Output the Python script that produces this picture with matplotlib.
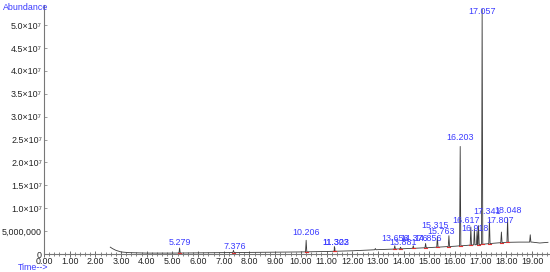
import matplotlib
matplotlib.use("Agg")
import matplotlib.pyplot as plt
import numpy as np
from matplotlib.ticker import MultipleLocator, FixedLocator, FuncFormatter

plt.rcParams['font.family'] = ['Liberation Sans', 'DejaVu Sans']

# ---- data ----
baseline_t = [2.58, 2.66, 2.80, 3.00, 3.30, 4.0, 5.0, 6.0, 7.0, 8.0, 9.0, 10.0, 11.0, 12.0,
              13.0, 14.0, 15.0, 16.0, 16.5, 17.0, 17.5, 18.0, 18.5, 19.0, 19.3, 19.62]
baseline_y = [1.5e6, 1.2e6, 0.8e6, 0.45e6, 0.3e6, 0.2e6, 0.2e6, 0.25e6, 0.3e6, 0.35e6, 0.4e6,
              0.45e6, 0.55e6, 0.7e6, 0.95e6, 1.15e6, 1.4e6, 1.7e6, 1.9e6, 2.1e6, 2.35e6, 2.55e6,
              2.6e6, 2.6e6, 2.4e6, 2.55e6]

peak_rt = [5.279, 7.376, 10.206, 11.303, 11.322, 13.656, 13.881, 14.376, 14.856,
           15.315, 15.763, 16.203, 16.617, 16.918, 17.057, 17.341, 17.807, 18.048]
peak_height = [1.3e6, 0.8e6, 3.0e6, 1.6e6, 1.3e6, 1.8e6, 1.5e6, 1.8e6, 2.3e6,
               3.8e6, 4.0e6, 2.35e7, 5.9e6, 6.2e6, 5.35e7, 7.5e6, 4.8e6, 7.9e6]
peak_label = ["5.279", "7.376", "10.206", "11.303", "11.322", "13.656", "13.881", "14.376", "14.856",
              "15.315", "15.763", "16.203", "16.617", "16.918", "17.057", "17.341", "17.807", "18.048"]

minor_rt = [12.9, 16.755, 16.86, 18.93]
minor_height = [1.2e6, 5.5e6, 5.1e6, 4.2e6]

y_ticks = [0, 5e6, 1e7, 1.5e7, 2e7, 2.5e7, 3e7, 3.5e7, 4e7, 4.5e7, 5e7]
x_ticks = list(range(0, 20))

# label placement (style): (dx in minutes, y centre in abundance)
label_pos = [(0, 2.5e6), (0.05, 1.7e6), (0, 4.6e6), (0.05, 2.6e6), (0.04, 2.6e6), (0, 3.4e6),
             (0.1, 2.5e6), (0.05, 3.3e6), (0.1, 3.3e6),
             (-0.1, 6.2e6), (-0.3, 5.0e6), (0, 2.55e7), (-0.2, 7.4e6), (-0.15, 5.6e6),
             (0, 5.3e7), (-0.1, 9.3e6), (-0.05, 7.4e6), (0.0, 9.6e6)]

# ---- build trace ----
bt = np.array(baseline_t)
by = np.array(baseline_y)
pts_t = list(bt)
pts_y = list(by)
w = 0.025
for rt, h in list(zip(peak_rt, peak_height)) + list(zip(minor_rt, minor_height)):
    b = np.interp(rt, bt, by)
    for tt, yy in ((rt - w, b), (rt, h), (rt + w, b)):
        pts_t.append(tt)
        pts_y.append(yy)
order = np.argsort(pts_t, kind='stable')
tr_t = np.array(pts_t)[order]
tr_y = np.array(pts_y)[order]

fig = plt.figure(figsize=(5.5, 2.72), dpi=100)
ax = fig.add_axes([44/550, 18/272, (549-44)/550, (254-5)/272])
ax.plot(tr_t, tr_y, color='#3a3a3a', lw=0.6)

# integration markers
for rt in peak_rt:
    b = np.interp(rt, bt, by)
    ax.plot([rt - 0.06, rt + 0.06], [b, b], color='#e03030', lw=0.8)

for rt, lab, (dx, yc) in zip(peak_rt, peak_label, label_pos):
    ax.text(rt + dx, yc, lab, color='#3a3aff', fontsize=6.4, ha='center', va='center')

ax.set_xlim(0, 19.66)
ax.set_ylim(0, 5.44e7)
for s in ('top', 'right'):
    ax.spines[s].set_visible(False)
for s in ('left', 'bottom'):
    ax.spines[s].set_color('#777777')
    ax.spines[s].set_linewidth(0.8)

ax.xaxis.set_major_locator(FixedLocator(x_ticks))
ax.xaxis.set_minor_locator(MultipleLocator(0.2))
ax.xaxis.set_major_formatter(FuncFormatter(lambda v, p: f"{v:.2f}"))
ax.yaxis.set_major_locator(FixedLocator(y_ticks))

def yfmt(v, p):
    if v == 0:
        return "0"
    if v < 1e7:
        return f"{int(v):,}"
    return f"{v/1e7:.1f}\u00d710\u2077"
ax.yaxis.set_major_formatter(FuncFormatter(yfmt))
ax.tick_params(axis='x', which='major', direction='inout', length=4, width=0.6, color='#555555',
               labelsize=6.4, labelcolor='#222222', pad=0.5)
ax.tick_params(axis='x', which='minor', direction='inout', length=3, width=0.5, color='#555555')
ax.tick_params(axis='y', which='major', direction='in', length=2, width=0.5, color='#777777',
               labelsize=6.4, labelcolor='#222222', pad=1.5)

fig.text(3/550, 1 - 7/272, "Abundance", color='#3a3aff', fontsize=6.4, ha='left', va='center')
fig.text(18/550, 1 - 267/272, "Time-->", color='#3a3aff', fontsize=6.4, ha='left', va='center')

fig.savefig("out.png", dpi=100)
